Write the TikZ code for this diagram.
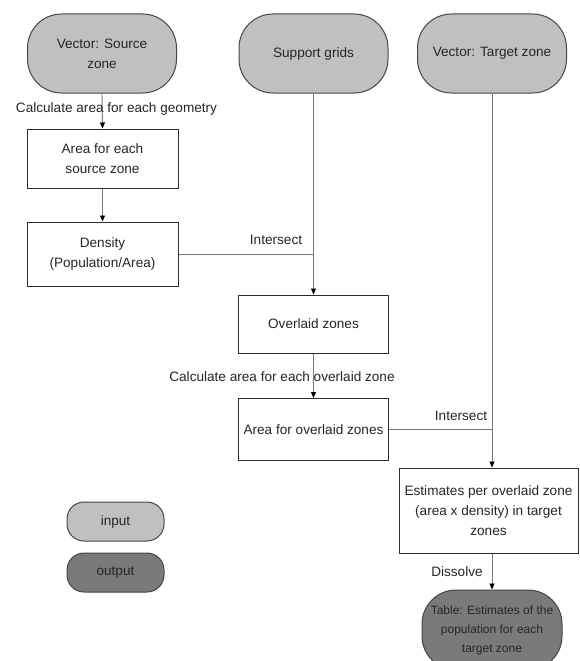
\documentclass[tikz,border=0pt]{standalone}
\usepackage{fontspec}
\setmainfont{Liberation Sans}
\usetikzlibrary{arrows.meta}
\definecolor{pillin}{RGB}{192,192,192}
\definecolor{pillout}{RGB}{122,122,122}
\definecolor{pillborder}{RGB}{70,70,70}
\definecolor{boxborder}{RGB}{45,45,45}
\definecolor{conn}{RGB}{120,120,120}
\begin{document}
\begin{tikzpicture}[x=1pt,y=-1pt,
  every node/.style={font=\fontsize{13.6}{20}\selectfont, text=black!85, inner sep=0pt},
  inpill/.style={draw=pillborder, line width=1pt, fill=pillin, rounded corners=34pt, minimum width=149pt, minimum height=79pt, align=center},
  outpill/.style={draw=pillborder, line width=1pt, fill=pillout, rounded corners=34pt, minimum width=140pt, minimum height=80pt, align=center},
  legin/.style={draw=pillborder, line width=1pt, fill=pillin, rounded corners=17pt, minimum width=97pt, minimum height=39pt},
  legout/.style={draw=pillborder, line width=1pt, fill=pillout, rounded corners=17pt, minimum width=97pt, minimum height=39pt},
  procbox/.style={draw=boxborder, line width=1pt, fill=white, minimum width=151pt, align=center},
  conn/.style={draw=conn, line width=0.9pt},
  arr/.style={conn, -{Triangle[length=6pt,width=5pt,color=black]}},
  lbl/.style={}]
\path[clip, use as bounding box] (0,0) rectangle (579,661);
\fill[white] (0,0) rectangle (579,661);

% input pills
\node[inpill] (src) at (102,53.5) {Vector: Source\\zone};
\node[inpill] (supp) at (313.5,53.5) {Support grids};
\node[inpill] (tgt) at (492,53.5) {Vector: Target zone};

% process boxes
\node[procbox, minimum height=59pt] (area) at (102.5,158.5) {Area for each\\source zone};
\node[procbox, minimum height=64pt] (dens) at (102.5,254) {Density\\(Population/Area)};
\node[procbox, minimum width=150pt, minimum height=58pt] (ovl) at (313.5,324) {Overlaid zones};
\node[procbox, minimum width=150pt, minimum height=62pt] (aov) at (313.5,429.5) {Area for overlaid zones};
\node[procbox, minimum width=179pt, minimum height=85pt] (est) at (488.5,510.5) {Estimates per overlaid zone\\(area x density) in target\\zones};

% output pill (cut off by the page bottom)
\node[outpill, font=\fontsize{12}{19}\selectfont] (out) at (492,630) {Table: Estimates of the\\population for each\\target zone};

% legend
\node[legin] (legi) at (115.5,521.5) {input};
\node[legout] (lego) at (115.5,572.5) {output};

% connectors
\draw[arr] (src.south) -- (area.north);
\draw[arr] (area.south) -- (dens.north);
\draw[arr] (supp.south) -- (ovl.north);
\coordinate (j1) at (ovl.north |- dens.east);
\draw[conn] (dens.east) -- (j1);
\draw[arr] (ovl.south) -- (aov.north);
\draw[arr] (tgt.south) -- (tgt.south |- est.north);
\coordinate (j2) at (tgt.south |- aov.east);
\draw[conn] (aov.east) -- (j2);
\draw[arr] (est.south -| tgt.south) -- (out.north);

% connector labels
\node[lbl] (l1) at (116.5,109) {Calculate area for each geometry};
\node[lbl] (l2) at (276,240) {Intersect};
\node[lbl] (l3) at (282,377) {Calculate area for each overlaid zone};
\node[lbl] (l4) at (461,416) {Intersect};
\node[lbl] (l5) at (457,572) {Dissolve};
\end{tikzpicture}
\end{document}
